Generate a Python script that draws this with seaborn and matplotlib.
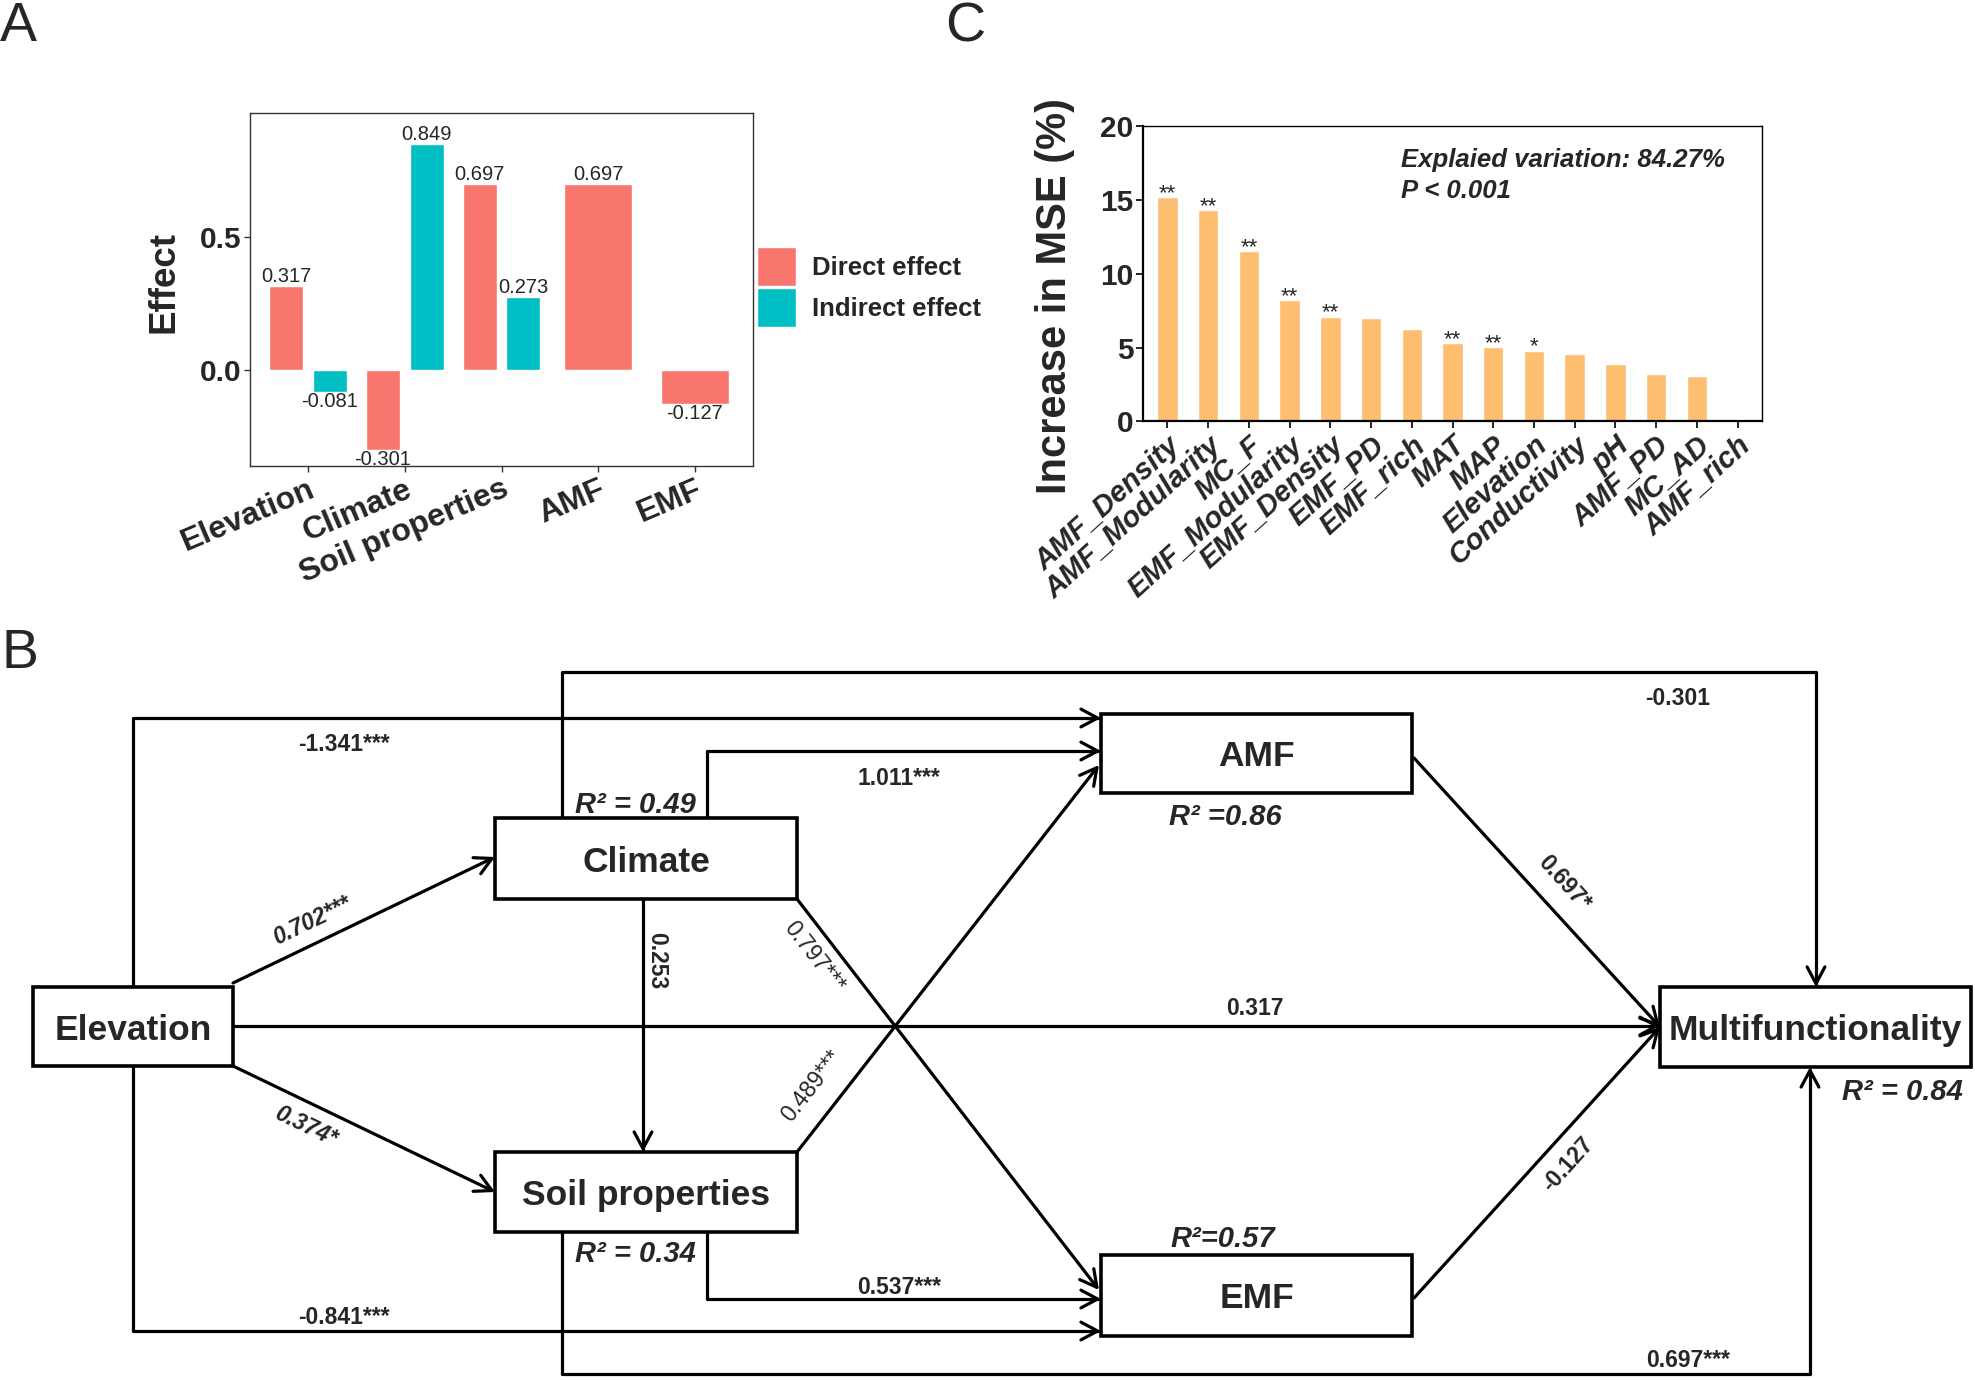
import numpy as np
import pandas as pd
import matplotlib
matplotlib.use("Agg")
import matplotlib.pyplot as plt
from matplotlib.patches import Rectangle, FancyArrowPatch
from matplotlib.path import Path
import seaborn as sns

## Panel A: direct / indirect effects on multifunctionality
a_vars = ["Elevation", "Climate", "Soil properties", "AMF", "EMF"]
a_direct = [0.317, -0.301, 0.697, 0.697, -0.127]
a_indirect = [-0.081, 0.849, 0.273, np.nan, np.nan]
a_types = ["Direct effect", "Indirect effect"]

## Panel C: random forest importance
c_vars = ["AMF_Density", "AMF_Modularity", "MC_F", "EMF_Modularity", "EMF_Density",
          "EMF_PD", "EMF_rich", "MAT", "MAP", "Elevation", "Conductivity", "pH",
          "AMF_PD", "MC_AD", "AMF_rich"]
c_mse = [15.21, 14.30, 11.52, 8.24, 7.10, 7.02, 6.24, 5.28, 5.05, 4.79, 4.58, 3.90,
         3.22, 3.07, 0.0]
c_sig = ["**", "**", "**", "**", "**", "", "", "**", "**", "*", "", "", "", "", ""]

## Panel B: path model
nodes = ["Elevation", "Climate", "Soil properties", "AMF", "EMF", "Multifunctionality"]
node_r2 = ["", "R² = 0.49", "R² = 0.34", "R² =0.86", "R²=0.57", "R² = 0.84"]
path_from = ["Elevation", "Climate", "Climate", "Elevation", "Elevation", "Elevation", "Climate",
             "Climate", "Soil properties", "Soil properties", "Soil properties", "Elevation",
             "AMF", "EMF"]
path_to = ["AMF", "Multifunctionality", "AMF", "Climate", "Soil properties", "Multifunctionality",
           "Soil properties", "EMF", "AMF", "Multifunctionality", "EMF", "EMF",
           "Multifunctionality", "Multifunctionality"]
path_coef = ["-1.341***", "-0.301", "1.011***", "0.702***", "0.374*", "0.317", "0.253",
             "0.797***", "0.489***", "0.697***", "0.537***", "-0.841***", "0.697*", "-0.127"]

W, H = 1975, 1380
sns.set_style("ticks")
plt.rcParams["font.family"] = ["Liberation Sans", "DejaVu Sans"]
fig = plt.figure(figsize=(W / 100, H / 100), dpi=100)
fig.patch.set_facecolor("white")

# ---- overlay axes in pixel units for the diagram and panel letters
axB = fig.add_axes([0, 0, 1, 1])
axB.set_xlim(0, W)
axB.set_ylim(H, 0)
axB.axis("off")
axB.patch.set_alpha(0)

for letter, (lx, ly) in zip("ACB", [(0, 41), (945, 41), (2, 668)]):
    axB.text(lx, ly, letter, fontsize=40, va="baseline", ha="left")

# ---- panel A
pal = {"Direct effect": "#F8766D", "Indirect effect": "#00BFC4"}
df_a = pd.DataFrame({"var": a_vars * 2,
                     "type": [a_types[0]] * 5 + [a_types[1]] * 5,
                     "effect": a_direct + a_indirect}).dropna()
n_per = df_a.groupby("var")["type"].transform("count")
pair = df_a[n_per == 2]
single = df_a[n_per == 1]

axA = fig.add_axes([250 / W, 1 - 466 / H, 503 / W, 353 / H])
sns.barplot(data=pair, x="var", y="effect", hue="type", order=a_vars, hue_order=a_types,
            palette=pal, width=0.9, gap=0.22, saturation=1, errorbar=None, ax=axA)
sns.barplot(data=single, x="var", y="effect", order=a_vars, color=pal["Direct effect"],
            width=0.7, saturation=1, errorbar=None, ax=axA)
for c in axA.containers:
    axA.bar_label(c, fmt="%.3f", padding=0, fontsize=14.5)
handles, labels = axA.get_legend_handles_labels()
axA.legend(handles[:2], labels[:2], loc="upper left", bbox_to_anchor=(757 / W, 1 - 247 / H),
           bbox_transform=fig.transFigure, frameon=False, borderpad=0, borderaxespad=0,
           handlelength=1.5, handleheight=1.95, labelspacing=0.08, handletextpad=0.65,
           prop={"size": 18.5, "weight": "bold"})
axA.set_xlim(-0.6, 4.6)
axA.set_ylim(-0.36, 0.965)
axA.set_yticks([0.0, 0.5])
axA.set_yticklabels(["0.0", "0.5"], fontsize=21.5, fontweight="bold")
axA.set_xticks(range(len(a_vars)))
axA.set_xticklabels(a_vars, rotation=23, ha="right", va="top", rotation_mode="anchor",
                    fontsize=23, fontweight="bold")
axA.set_xlabel("")
axA.set_ylabel("Effect", fontsize=26.5, fontweight="bold")
axA.yaxis.set_label_coords(-0.137, 0.52)
for s in axA.spines.values():
    s.set_color("#333333")
    s.set_linewidth(1.0)
axA.tick_params(length=4, width=1, color="#333333", pad=2)

# ---- panel C
df_c = pd.DataFrame({"var": c_vars, "mse": c_mse})
axC = fig.add_axes([1143 / W, 1 - 421.5 / H, 619 / W, 295.5 / H])
sns.barplot(data=df_c, x="var", y="mse", order=c_vars, color="#FDBF6F", width=0.5,
            saturation=1, errorbar=None, ax=axC)
axC.bar_label(axC.containers[0], labels=c_sig, padding=-5, fontsize=16)
axC.set_xlim(-0.6, 14.6)
axC.set_ylim(0, 20)
axC.set_yticks([0, 5, 10, 15, 20])
axC.set_yticklabels(["0", "5", "10", "15", "20"], fontsize=21.5, fontweight="bold")
axC.set_xticks(range(len(c_vars)))
axC.set_xticklabels(c_vars, rotation=42, ha="right", va="top", rotation_mode="anchor",
                    fontsize=21, fontweight="bold", fontstyle="italic")
axC.set_xlabel("")
axC.set_ylabel("Increase in MSE (%)", fontsize=30, fontweight="bold")
axC.yaxis.set_label_coords(-0.110, 0.425)
for name, s in axC.spines.items():
    s.set_color("black")
    s.set_linewidth(1.6 if name in ("left", "bottom") else 1.0)
axC.tick_params(length=5, width=1.2, color="black", pad=2)
axC.text(0.417, 0.862, "Explaied variation: 84.27%", transform=axC.transAxes,
         fontsize=18.5, fontweight="bold", fontstyle="italic", va="baseline")
axC.text(0.417, 0.756, "P < 0.001", transform=axC.transAxes,
         fontsize=18.5, fontweight="bold", fontstyle="italic", va="baseline")

# ---- panel B: boxes (pixel layout)
box_xy = {"Elevation": (33, 987, 200, 79), "Climate": (495, 818, 302, 81),
          "Soil properties": (495, 1152, 302, 80), "AMF": (1101, 714, 311, 79),
          "EMF": (1101, 1255, 311, 81), "Multifunctionality": (1660, 987, 311, 80)}
r2_xy = {"Climate": (635, 813), "Soil properties": (635, 1262), "AMF": (1225, 825),
         "EMF": (1223, 1247), "Multifunctionality": (1902, 1100)}

for name, r2 in zip(nodes, node_r2):
    x, y, w, h = box_xy[name]
    axB.add_patch(Rectangle((x, y), w, h, facecolor="white", edgecolor="black",
                            lw=2.6, zorder=3))
    axB.text(x + w / 2, y + h / 2, name, ha="center", va="center_baseline",
             fontsize=25.5, fontweight="bold", zorder=4)
    if r2:
        rx, ry = r2_xy[name]
        axB.text(rx, ry, r2, ha="center", va="baseline", fontsize=21,
                 fontweight="bold", fontstyle="italic", zorder=4)

# routes for each path, in the same order as path_coef
routes = [
    [(133, 987), (133, 718), (1101, 718)],
    [(562, 818), (562, 672), (1816, 672), (1816, 987)],
    [(707, 818), (707, 751), (1101, 751)],
    [(233, 983), (495, 857)],
    [(233, 1066), (495, 1192)],
    [(233, 1026), (1660, 1026)],
    [(643, 899), (643, 1152)],
    [(797, 899), (1099, 1290)],
    [(797, 1152), (1099, 765)],
    [(562, 1232), (562, 1374), (1810, 1374), (1810, 1067)],
    [(707, 1232), (707, 1299), (1101, 1299)],
    [(133, 1066), (133, 1331), (1101, 1331)],
    [(1414, 758), (1660, 1027)],
    [(1414, 1298), (1660, 1027)],
]
# label placement: (x, y, rotation, va, weight, style)
label_pos = [
    (344, 751, 0, "baseline", "bold", "normal"),
    (1678, 705, 0, "baseline", "bold", "normal"),
    (899, 785, 0, "baseline", "bold", "normal"),
    (312, 921, 25.7, "center", "bold", "italic"),
    (306, 1127, -25.7, "center", "bold", "italic"),
    (1255, 1015, 0, "baseline", "bold", "normal"),
    (657, 961, -90, "center", "bold", "normal"),
    (814, 957, -52, "center", "normal", "normal"),
    (812, 1086, 52, "center", "normal", "normal"),
    (1688, 1367, 0, "baseline", "bold", "normal"),
    (899, 1294, 0, "baseline", "bold", "normal"),
    (344, 1324, 0, "baseline", "bold", "normal"),
    (1564, 883, -48, "center", "bold", "normal"),
    (1568, 1165, 48, "center", "bold", "normal"),
]

for pts, coef, (tx, ty, rot, va, wt, st) in zip(routes, path_coef, label_pos):
    arrow = FancyArrowPatch(path=Path(pts), arrowstyle="->,head_length=0.6,head_width=0.32",
                            mutation_scale=20, lw=2.3, color="black", zorder=2)
    axB.add_patch(arrow)
    axB.text(tx, ty, coef, ha="center", va=va, rotation=rot, rotation_mode="anchor",
             fontsize=16.5, fontweight=wt, fontstyle=st, zorder=4)

fig.savefig("out.png", dpi=100)
